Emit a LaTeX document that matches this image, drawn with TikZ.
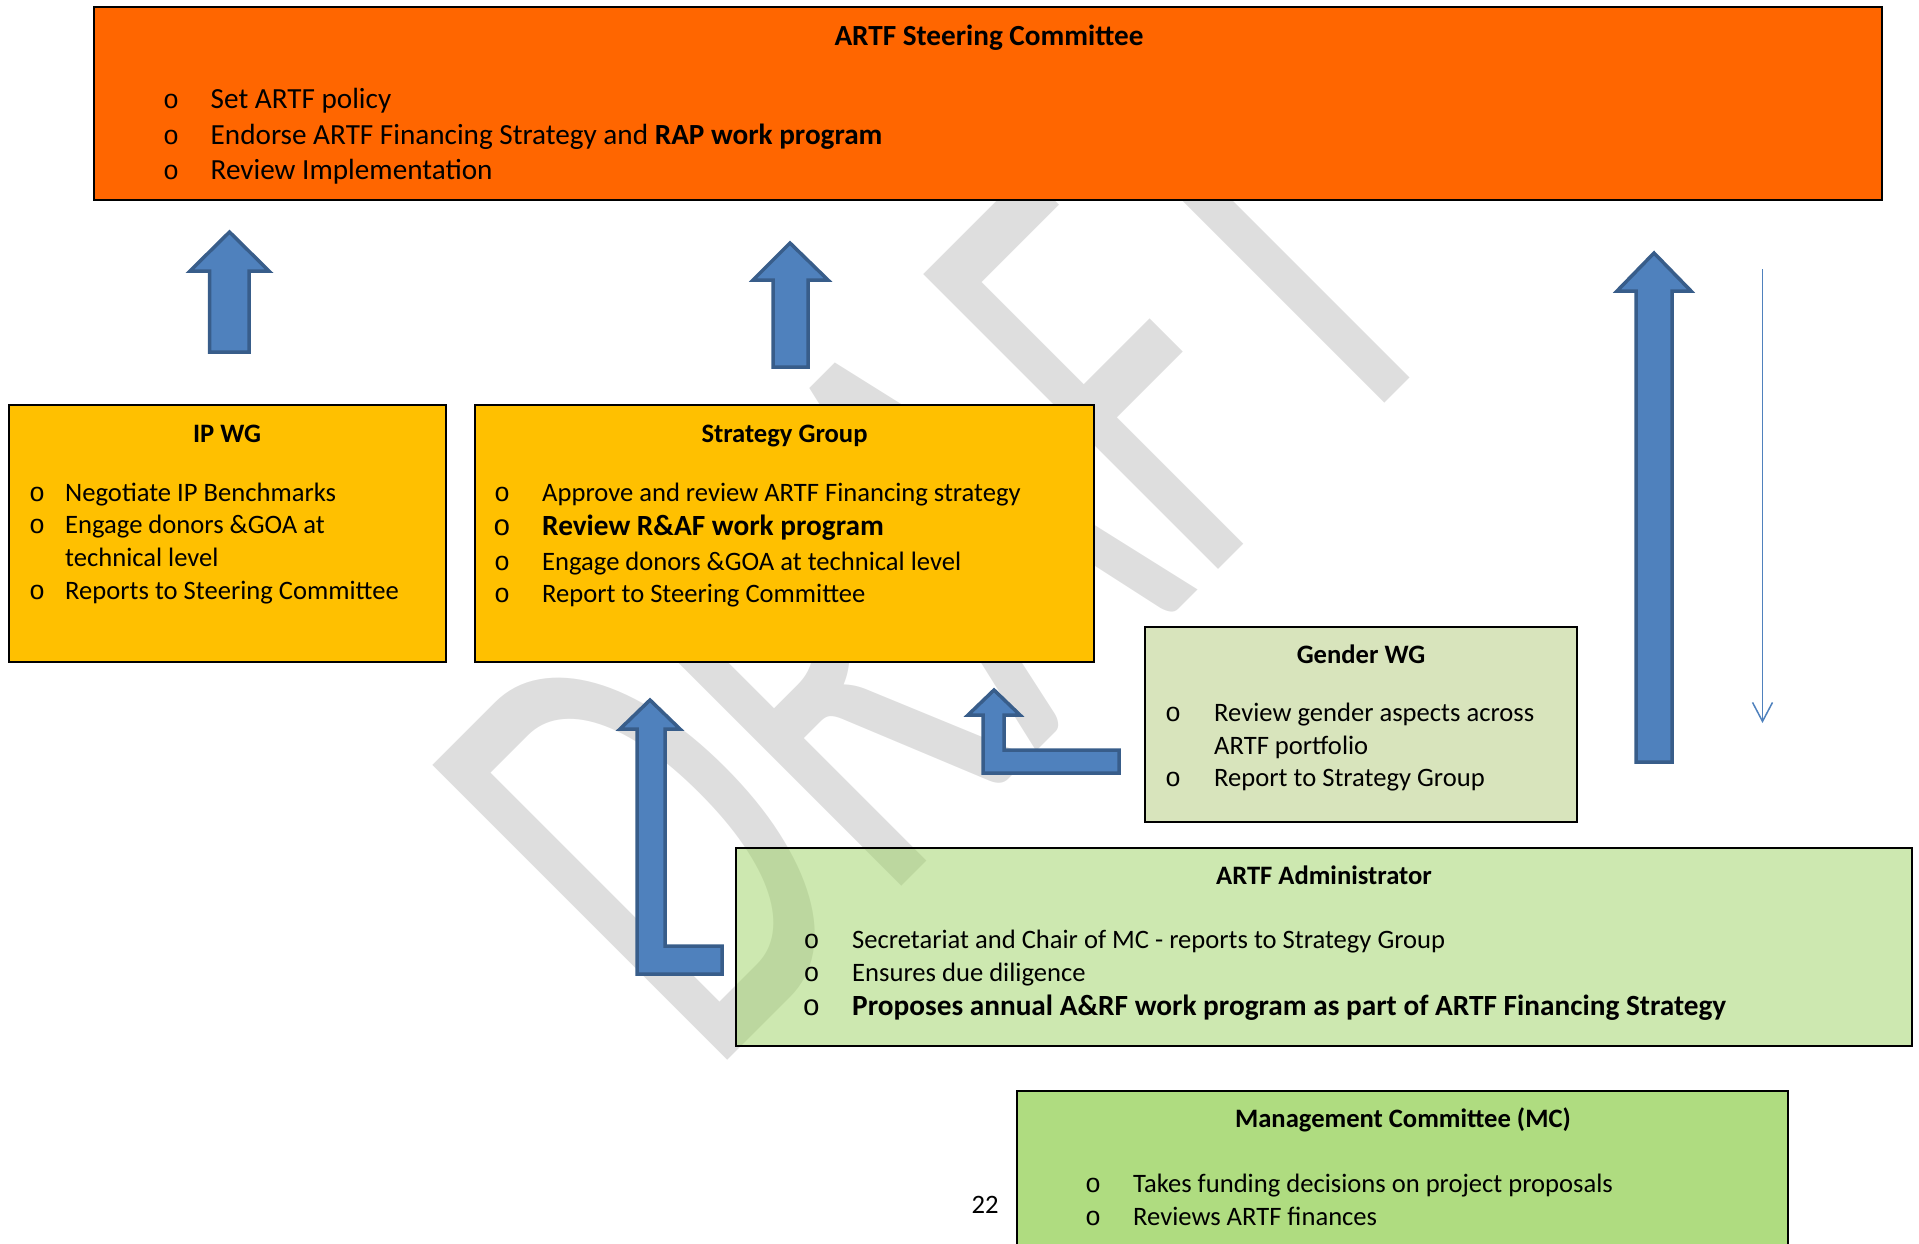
\documentclass[tikz,border=0pt]{standalone}
\usepackage{fontspec}
\setmainfont{Carlito}
\newfontfamily\bulfont{Liberation Mono}
\usetikzlibrary{arrows.meta}
\definecolor{steerfill}{RGB}{255,102,0}
\definecolor{sgfill}{RGB}{255,192,0}
\definecolor{genfill}{RGB}{216,228,188}
\definecolor{admfill}{RGB}{155,209,97}
\definecolor{mcfill}{RGB}{175,220,128}
\definecolor{arrowblue}{RGB}{79,129,189}
\definecolor{arrowedge}{RGB}{56,93,138}
\definecolor{wmgray}{RGB}{222,222,222}
\begin{document}
\begin{tikzpicture}[x=1pt,y=-1pt,
  box/.style={draw=black, line width=2pt, inner sep=0pt, outer sep=0pt, anchor=north west},
  body/.style={anchor=base west, inner sep=0pt, font=\fontsize{26.6}{32}\selectfont},
  bodyL/.style={anchor=base west, inner sep=0pt, font=\fontsize{29.2}{35}\selectfont},
  bodyb/.style={anchor=base west, inner sep=0pt, font=\fontsize{29.3}{35}\selectfont\bfseries},
  ttl/.style={anchor=base, inner sep=0pt, font=\fontsize{26.6}{32}\selectfont\bfseries},
  ttlL/.style={anchor=base, inner sep=0pt, font=\fontsize{29.2}{35}\selectfont\bfseries},
  bul/.style={anchor=base, inner sep=0pt, font=\bulfont\fontsize{26.6}{32}\selectfont},
  bulL/.style={anchor=base, inner sep=0pt, font=\bulfont\fontsize{29.3}{35}\selectfont},
  blockarrow/.style={fill=arrowblue, draw=arrowedge, line width=3.5pt, line join=miter},
  thinarrow/.style={draw=arrowblue, line width=1.5pt, -{Straight Barb[length=19pt,width=20pt,line width=1.5pt]}},
  wm/.style={rotate=45, xscale=0.615, anchor=base west, inner sep=0pt, text=wmgray, font=\fontsize{650}{650}\selectfont}
]
\useasboundingbox (0,0) rectangle (1919,1243);

% watermark
\node[wm] (draft) at (708,1080) {DRAFT};

% boxes
\node[box, fill=steerfill, minimum width=1788pt, minimum height=193pt] (steer) at (94,7) {};
\node[box, fill=sgfill, minimum width=437pt, minimum height=257pt] (ipwg) at (9,405) {};
\node[box, fill=sgfill, minimum width=619pt, minimum height=257pt] (sg) at (475,405) {};
\node[box, fill=genfill, minimum width=432pt, minimum height=195pt] (gwg) at (1145,627) {};
\node[box, fill=admfill, fill opacity=0.5, draw opacity=1, minimum width=1176pt, minimum height=198pt] (adm) at (736,848) {};
\node[box, fill=mcfill, minimum width=771pt, minimum height=180pt] (mc) at (1017,1091) {};

% steering text
\node[ttlL] (steerT) at (989,45.5) {ARTF Steering Committee};
\node[bul] (sb1) at (171,108) {o};
\node[bodyL] (st1) at (210.5,108) {Set ARTF policy};
\node[bul] (sb2) at (171,144) {o};
\node[bodyL] (st2) at (210.5,144) {Endorse ARTF Financing Strategy and \textbf{RAP work program}};
\node[bul] (sb3) at (171,179) {o};
\node[bodyL] (st3) at (210.5,179) {Review Implementation};

% IP WG text
\node[ttl] (ipT) at (227,442) {IP WG};
\node[bul] (ib1) at (37,501) {o};
\node[body] (it1) at (65,501) {Negotiate IP Benchmarks};
\node[bul] (ib2) at (37,533.5) {o};
\node[body] (it2) at (65,533.5) {Engage donors \&GOA at};
\node[body] (it2b) at (65,566) {technical level};
\node[bul] (ib3) at (37,599) {o};
\node[body] (it3) at (65,599) {Reports to Steering Committee};

% Strategy group text
\node[ttl] (sgT) at (784.5,442) {Strategy Group};
\node[bul] (gb1) at (502,501.7) {o};
\node[body] (gt1) at (542,501.7) {Approve and review ARTF Financing strategy};
\node[bulL] (gb2) at (502,535) {o};
\node[bodyb] (gt2) at (542,535) {Review R\&AF work program};
\node[bul] (gb3) at (502,570) {o};
\node[body] (gt3) at (542,570) {Engage donors \&GOA at technical level};
\node[bul] (gb4) at (502,602.7) {o};
\node[body] (gt4) at (542,602.7) {Report to Steering Committee};

% Gender WG text
\node[ttl] (gT) at (1361,663.5) {Gender WG};
\node[bul] (eb1) at (1173,721.7) {o};
\node[body] (et1) at (1214,721.7) {Review gender aspects across};
\node[body] (et1b) at (1214,754.3) {ARTF portfolio};
\node[bul] (eb2) at (1173,786.7) {o};
\node[body] (et2) at (1214,786.7) {Report to Strategy Group};

% Administrator text
\node[ttl] (aT) at (1324,884) {ARTF Administrator};
\node[bul] (ab1) at (811.5,948.5) {o};
\node[body] (at1) at (852,948.5) {Secretariat and Chair of MC - reports to Strategy Group};
\node[bul] (ab2) at (811.5,981.5) {o};
\node[body] (at2) at (852,981.5) {Ensures due diligence};
\node[bulL] (ab3) at (811.5,1015) {o};
\node[bodyb] (at3) at (852,1015) {Proposes annual A\&RF work program as part of ARTF Financing Strategy};

% MC text
\node[ttl] (mT) at (1403,1127.5) {Management Committee (MC)};
\node[bul] (mb1) at (1093,1192) {o};
\node[body] (mt1) at (1133,1192) {Takes funding decisions on project proposals};
\node[bul] (mb2) at (1093,1225) {o};
\node[body] (mt2) at (1133,1225) {Reviews ARTF finances};

% page number
\node[body, anchor=base] (pg) at (985,1213) {22};

% block arrows
\draw[blockarrow] (229.5,232) -- (269,271) -- (249,271) -- (249,352) -- (209.5,352) -- (209.5,271) -- (190,271) -- cycle;
\draw[blockarrow] (790,243) -- (828,280) -- (808,280) -- (808,367) -- (773,367) -- (773,280) -- (753,280) -- cycle;
\draw[blockarrow] (1654,253) -- (1691,291) -- (1672,291) -- (1672,762) -- (1636,762) -- (1636,291) -- (1617,291) -- cycle;
\draw[blockarrow] (994,690) -- (1020,715) -- (1004,715) -- (1004,750) -- (1119,750) -- (1119,773) -- (983,773) -- (983,715) -- (968,715) -- cycle;
\draw[blockarrow] (650,700) -- (680,729) -- (665,729) -- (665,946) -- (722,946) -- (722,974) -- (637,974) -- (637,729) -- (620,729) -- cycle;

% thin down arrow
\coordinate (thinTop) at (1762.5,269);
\coordinate (thinBot) at (1762.5,723);
\draw[thinarrow] (thinTop) -- (thinBot);
\end{tikzpicture}
\end{document}
